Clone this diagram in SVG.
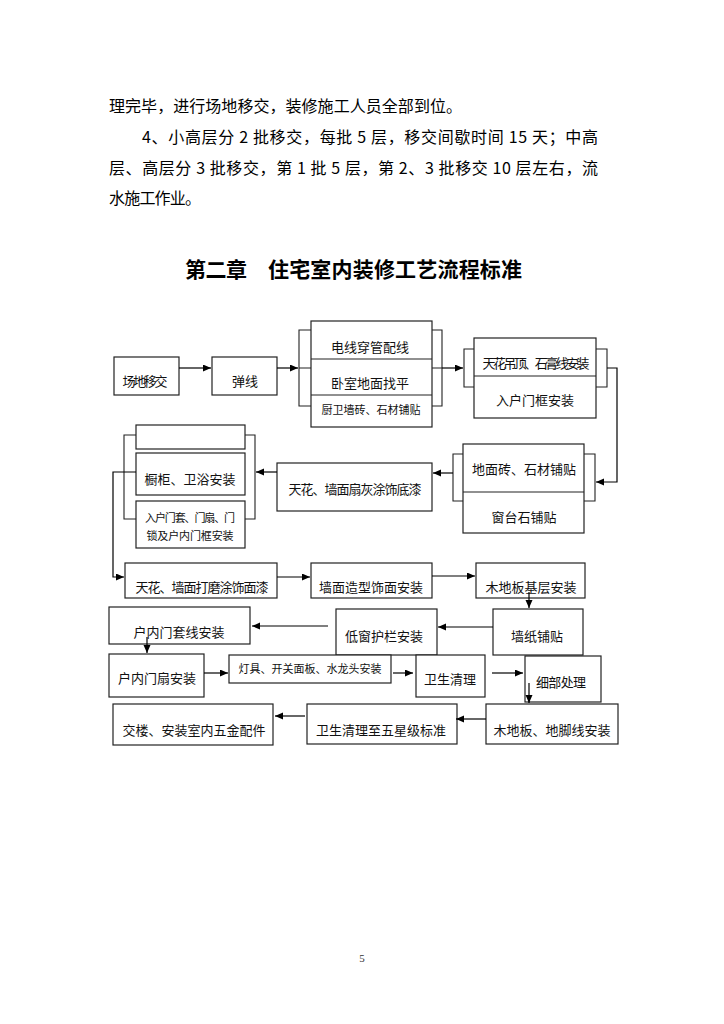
<svg xmlns="http://www.w3.org/2000/svg" width="724" height="1024" viewBox="0 0 724 1024">
<defs>
<marker id="ah" markerUnits="userSpaceOnUse" markerWidth="9" markerHeight="8" refX="8" refY="3.5" orient="auto">
<path d="M0,0 L8,3.5 L0,7 z" fill="#000"/>
</marker>
<style>
.bx{fill:#fff;stroke:#222;stroke-width:1.2}
.ln{fill:none;stroke:#222;stroke-width:1.1}
.ar{fill:none;stroke:#000;stroke-width:1.2;marker-end:url(#ah)}
.t{font-family:"Noto Sans CJK SC","Noto Sans",sans-serif;font-size:13px;fill:#111;text-anchor:middle}
.s{font-size:11px}
.p{font-family:"Noto Sans CJK SC","Noto Sans",sans-serif;font-size:16px;fill:#000}
.h{font-family:"Noto Sans CJK SC","Noto Sans",sans-serif;font-size:21px;font-weight:bold;fill:#000}
</style>
</defs>
<rect width="724" height="1024" fill="#fff"/>

<g id="paragraph">
<text class="p" x="109" y="112" textLength="353" lengthAdjust="spacing">理完毕，进行场地移交，装修施工人员全部到位。</text>
<text class="p" x="142" y="143" textLength="456" lengthAdjust="spacing">4、小高层分 2 批移交，每批 5 层，移交间歇时间 15 天；中高</text>
<text class="p" x="109" y="174" textLength="489" lengthAdjust="spacing">层、高层分 3 批移交，第 1 批 5 层，第 2、3 批移交 10 层左右，流</text>
<text class="p" x="109" y="204" textLength="92" lengthAdjust="spacing">水施工作业。</text>
</g>

<g id="title">
<text class="h" x="185" y="277" textLength="62" lengthAdjust="spacing">第二章</text>
<text class="h" x="268" y="277" textLength="254" lengthAdjust="spacing">住宅室内装修工艺流程标准</text>
</g>

<g id="n1"><rect class="bx" x="114" y="357" width="65" height="38"/><text class="t" x="145" y="386" textLength="45" lengthAdjust="spacing">场地移交</text></g>
<g id="n2"><rect class="bx" x="212" y="357" width="65" height="38"/><text class="t" x="245" y="386">弹线</text></g>

<g id="n3">
<rect class="bx" x="311" y="321" width="121" height="106"/>
<path class="ln" d="M311,359 H432 M311,395 H432"/>
<text class="t" x="370" y="352">电线穿管配线</text>
<text class="t" x="370" y="388">卧室地面找平</text>
<text class="t s" x="371" y="414">厨卫墙砖、石材铺贴</text>
</g>

<g id="n4">
<rect class="bx" x="474" y="338" width="122" height="80"/>
<path class="ln" d="M474,376 H596"/>
<text class="t" x="536" y="368" textLength="107" lengthAdjust="spacing">天花吊顶、石膏线安装</text>
<text class="t" x="535" y="405">入户门框安装</text>
</g>

<g id="n5">
<rect class="bx" x="463" y="444" width="121" height="89"/>
<path class="ln" d="M463,492 H584"/>
<text class="t" x="524" y="474">地面砖、石材铺贴</text>
<text class="t" x="524" y="522">窗台石铺贴</text>
</g>

<g id="n6"><rect class="bx" x="277" y="463" width="155" height="48"/><text class="t" x="355" y="494" textLength="133" lengthAdjust="spacing">天花、墙面扇灰涂饰底漆</text></g>

<g id="n7">
<rect class="bx" x="136" y="425" width="109" height="24"/>
<rect class="bx" x="136" y="453" width="109" height="42"/>
<text class="t" x="190" y="484">橱柜、卫浴安装</text>
<rect class="bx" x="136" y="501" width="109" height="47"/>
<text class="t s" x="190" y="522" textLength="90" lengthAdjust="spacing">入户门套、门扇、门</text>
<text class="t s" x="190" y="540" textLength="87" lengthAdjust="spacing">锁及户内门框安装</text>
</g>

<g id="n8"><rect class="bx" x="125" y="563" width="152" height="35"/><text class="t" x="202" y="592" textLength="133" lengthAdjust="spacing">天花、墙面打磨涂饰面漆</text></g>
<g id="n9"><rect class="bx" x="311" y="563" width="121" height="35"/><text class="t" x="371" y="592">墙面造型饰面安装</text></g>
<g id="n10"><rect class="bx" x="476" y="563" width="109" height="35"/><text class="t" x="531" y="592">木地板基层安装</text></g>
<g id="n11"><rect class="bx" x="493" y="609" width="90" height="46"/><text class="t" x="537" y="641">墙纸铺贴</text></g>
<g id="n12"><rect class="bx" x="336" y="609" width="101" height="46"/><text class="t" x="384" y="641">低窗护栏安装</text></g>
<g id="n13"><rect class="bx" x="109" y="607" width="141" height="37"/><text class="t" x="179" y="637">户内门套线安装</text></g>
<g id="n14"><rect class="bx" x="109" y="654" width="95" height="43"/><text class="t" x="157" y="683">户内门扇安装</text></g>
<g id="n15"><rect class="bx" x="229" y="655" width="162" height="28"/><text class="t s" x="310" y="673" textLength="143" lengthAdjust="spacing">灯具、开关面板、水龙头安装</text></g>
<g id="n16"><rect class="bx" x="416" y="655" width="69" height="42"/><text class="t" x="450" y="684">卫生清理</text></g>
<g id="n17"><rect class="bx" x="525" y="656" width="76" height="46"/><text class="t" x="561" y="687" textLength="50" lengthAdjust="spacing">细部处理</text></g>
<g id="n18"><rect class="bx" x="486" y="704" width="132" height="40"/><text class="t" x="552" y="735">木地板、地脚线安装</text></g>
<g id="n19"><rect class="bx" x="307" y="704" width="150" height="40"/><text class="t" x="381" y="735">卫生清理至五星级标准</text></g>
<g id="n20"><rect class="bx" x="113" y="704" width="160" height="41"/><text class="t" x="194" y="735">交楼、安装室内五金配件</text></g>

<g id="connectors">
<path class="ar" d="M179,368 H211"/>
<path class="ar" d="M277,368 H298"/>
<path class="ln" d="M311,330 H299 V406 H311 M299,368 H311"/>
<path class="ln" d="M432,330 H442 V406 H432 M432,368 H442"/>
<path class="ar" d="M442,368 H463"/>
<path class="ln" d="M474,349 H464 V387 H474"/>
<path class="ln" d="M596,349 H607 V387 H596"/>
<path class="ar" d="M607,368 H617 V482 H596"/>
<path class="ln" d="M463,454 H453 V501 H463"/>
<path class="ln" d="M584,454 H595 V501 H584"/>
<path class="ar" d="M453,473 H433"/>
<path class="ar" d="M277,472 H256"/>
<path class="ln" d="M136,435 H124 V519 H136"/>
<path class="ln" d="M245,435 H255 V519 H245"/>
<path class="ar" d="M136,472 H113 V577 H124"/>
<path class="ar" d="M277,577 H310"/>
<path class="ar" d="M432,576 H475"/>
<path class="ar" d="M529,592 V608"/>
<path class="ar" d="M493,627 H438"/>
<path class="ar" d="M328,626 H252"/>
<path class="ar" d="M147,637 V653"/>
<path class="ar" d="M204,673 H228"/>
<path class="ar" d="M393,673 H413"/>
<path class="ar" d="M492,673 H523"/>
<path class="ar" d="M529,683 V703"/>
<path class="ar" d="M486,719 H456"/>
<path class="ar" d="M305,716 H275"/>
</g>

<g id="page"><text x="362" y="962" font-family="Liberation Serif,serif" font-size="11" text-anchor="middle" fill="#333">5</text></g>
</svg>
